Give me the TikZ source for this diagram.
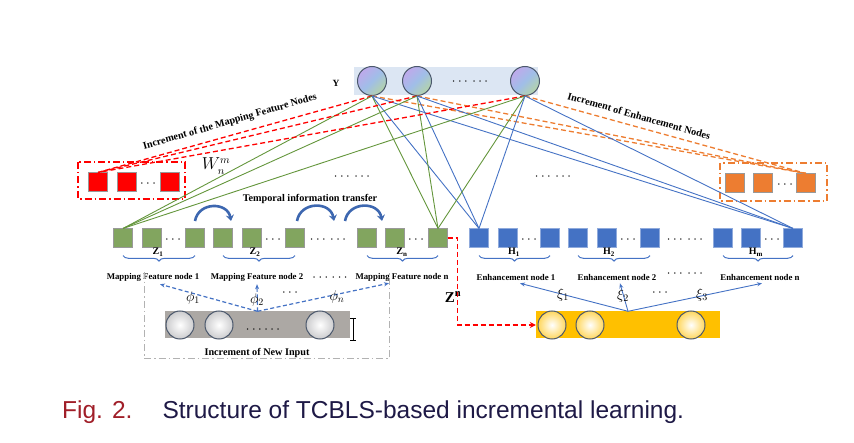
\documentclass[tikz,border=0pt]{standalone}
\usepackage{fontspec}
\setmainfont{Liberation Serif}
\newfontfamily\capfont{Liberation Sans}
\usetikzlibrary{positioning,arrows.meta,decorations.pathreplacing}
\definecolor{gfill}{RGB}{130,165,95}
\definecolor{gline}{RGB}{100,150,60}
\definecolor{bfill}{RGB}{68,114,196}
\definecolor{ofill}{RGB}{237,125,49}
\definecolor{ybar}{RGB}{220,230,243}
\definecolor{cborder}{RGB}{75,88,108}
\definecolor{cpur}{RGB}{190,170,235}
\definecolor{cblu}{RGB}{160,190,232}
\definecolor{cgrn}{RGB}{180,212,168}
\definecolor{inbar}{RGB}{172,168,164}
\definecolor{gold}{RGB}{255,192,0}
\definecolor{ringgray}{RGB}{175,175,178}
\definecolor{capred}{RGB}{160,30,40}
\definecolor{capblue}{RGB}{30,25,70}
\newcommand{\tdots}{{\fontsize{6}{6}\selectfont\textbullet\hspace{4pt}\textbullet\hspace{4pt}\textbullet}}

\begin{document}
\begin{tikzpicture}[
		x=1pt, y=-1pt
		,sq/.style={draw=gray!80, line width=.6pt, minimum size=18.5pt, inner sep=0pt}
		,gsq/.style={sq, fill=gfill}
		,bsq/.style={sq, fill=bfill, draw=bfill!60!white}
		,rsq/.style={sq, fill=red}
		,osq/.style={sq, fill=ofill}
		,yc/.style={circle, draw=cborder, line width=1pt, minimum size=29pt, inner sep=0pt,
			top color=cpur, bottom color=cgrn, middle color=cblu, shading angle=45}
		,ic/.style={circle, draw=cborder, line width=1pt, minimum size=28pt, inner sep=0pt, fill=#1,
			path picture={\shade[inner color=white, outer color=#1] (path picture bounding box.center) circle (22pt);}}
		,lab/.style={font=\bfseries\fontsize{8.8}{9}\selectfont, inner sep=1pt}
		,big/.style={font=\bfseries\fontsize{10.2}{11}\selectfont, inner sep=1pt}
		,zlab/.style={font=\bfseries\fontsize{10}{11}\selectfont, inner sep=0pt}
		,brc/.style={decorate, decoration={brace, mirror, amplitude=5.5pt}, draw=bfill, line width=1pt}
		,gl/.style={draw=gline, line width=.9pt}
		,bl/.style={draw=bfill, line width=.9pt}
		,rdash/.style={draw=red, line width=1.3pt, dash pattern=on 5pt off 3pt}
		,odash/.style={draw=ofill, line width=1.3pt, dash pattern=on 5pt off 3pt}
		,tarc/.style={draw=bfill!90!black, line width=2.6pt, -{Stealth[length=6pt, width=8pt]}}
	]
		\useasboundingbox (0,0) rectangle (854,443);

		% output layer Y
		\node[fill=ybar, minimum width=184pt, minimum height=28pt, inner sep=0pt] (ybox) at (446,81) {};
		\node[yc] (y1) at (372,81) {};
		\node[yc] (y2) at (417,81) {};
		\node[yc] (y3) at (525,81) {};
		\node at (470,82) {\tdots\hspace{6pt}\tdots};
		\node[big, font=\bfseries\fontsize{9.5}{9.5}\selectfont] (ylab) at (336,83) {Y};

		% incremental boxes
		\draw[red, line width=1.3pt, dash pattern=on 7pt off 3pt on 1.5pt off 3pt] (78,162) rectangle (185,199);
		\node[rsq] (r1) at (98,182) {};
		\node[rsq] (r2) at (127,182) {};
		\node[rsq] (r3) at (170,182) {};
		\node at (148,184) {\tdots};
		\draw[ofill, line width=1.3pt, dash pattern=on 7pt off 3pt on 1.5pt off 3pt] (720,163) rectangle (827,201);
		\node[osq] (o1) at (735,183) {};
		\node[osq] (o2) at (763,183) {};
		\node[osq] (o3) at (806,183) {};
		\node at (785,185) {\tdots};
		\node[font=\itshape\fontsize{16}{16}\selectfont, inner sep=0pt] (wlab) at (216,166) {$W^{m}_{n}$};
		\node at (352,177) {\tdots\hspace{6pt}\tdots};
		\node at (553,177) {\tdots\hspace{6pt}\tdots};

		% feature and enhancement rows
		\foreach \x [count=\i] in {123,152,195,223,252,295,367,395,438}
			\node[gsq] (g\i) at (\x,238) {};
		\foreach \x [count=\i] in {479,508,550,578,607,650,723,751,793}
			\node[bsq] (b\i) at (\x,238) {};
		\foreach \x in {173,273,416,529,628,772}
			\node at (\x,240) {\tdots};
		\node at (328,240) {\tdots\hspace{6pt}\tdots};
		\node at (685,240) {\tdots\hspace{6pt}\tdots};

		% connections to Y
		\foreach \c in {y1,y2,y3} {
			\draw[rdash] (\c.south) -- (r1.north);
			\draw[odash] (\c.south) -- (o3.north);
			\draw[gl] (\c.south) -- (g1.north);
			\draw[gl] (\c.south) -- (g9.north);
			\draw[bl] (\c.south) -- (b1.north);
			\draw[bl] (\c.south) -- (b9.north);
		}
		\node[big, rotate=16] (incmap) at (230,122) {Increment of the Mapping Feature Nodes};
		\node[big, rotate=-16] (incenh) at (639,116) {Increment of Enhancement Nodes};

		% temporal transfer
		\node[big] (temp) at (310,199) {Temporal information transfer};
		\coordinate (t1) at (195,221); \coordinate (t2) at (231,221);
		\coordinate (t3) at (297,221); \coordinate (t4) at (334,221);
		\coordinate (t5) at (345,221); \coordinate (t6) at (382,221);
		\draw[tarc] (t1) to[out=80, in=100, looseness=1.4] (t2);
		\draw[tarc] (t3) to[out=80, in=100, looseness=1.4] (t4);
		\draw[tarc] (t5) to[out=80, in=100, looseness=1.4] (t6);

		% braces
		\draw[brc] ([yshift=-8pt]g1.south) -- ([yshift=-8pt]g3.south);
		\draw[brc] ([yshift=-8pt]g4.south) -- ([yshift=-8pt]g6.south);
		\draw[brc] ([yshift=-8pt]g7.south) -- ([yshift=-8pt]g9.south);
		\draw[brc] ([yshift=-8pt]b1.south) -- ([yshift=-8pt]b3.south);
		\draw[brc] ([yshift=-8pt]b4.south) -- ([yshift=-8pt]b6.south);
		\draw[brc] ([yshift=-8pt]b7.south) -- ([yshift=-8pt]b9.south);
		\node[zlab] (z1) at (158,252) {Z\textsubscript{1}};
		\node[zlab] (z2) at (255,252) {Z\textsubscript{2}};
		\node[zlab] (zn) at (402,252) {Z\textsubscript{n}};
		\node[zlab] (h1) at (514,252) {H\textsubscript{1}};
		\node[zlab] (h2) at (609,252) {H\textsubscript{2}};
		\node[zlab] (hm) at (756,252) {H\textsubscript{m}};

		\node[lab] (mf1) at (153,277) {Mapping Feature node 1};
		\node[lab] (mf2) at (257,277) {Mapping Feature node 2};
		\node[lab] (mfn) at (402,277) {Mapping Feature node n};
		\node at (330,278) {\tdots\hspace{5pt}\tdots};
		\node[lab] (en1) at (516,277) {Enhancement node 1};
		\node[lab] (en2) at (617,277) {Enhancement node 2};
		\node[lab] (enn) at (760,277) {Enhancement node n};
		\node at (685,274) {\tdots\hspace{6pt}\tdots};

		% new input
		\draw[gray!60, line width=1pt, dash pattern=on 7pt off 3pt on 1.5pt off 3pt]
			(144,272) -- (144,359) -- (389,359) -- (389,272);
		\node[fill=inbar, minimum width=185pt, minimum height=27pt, inner sep=0pt] (inb) at (257.5,325) {};
		\node[ic=ringgray] (x1) at (180,325) {};
		\node[ic=ringgray] (x2) at (219,325) {};
		\node[ic=ringgray] (x3) at (320,325) {};
		\node at (263,330) {\tdots\hspace{4pt}\tdots};
		\draw[line width=.8pt] (353,318) -- (353,340) (350,318) -- (356,318) (350,340) -- (356,340);
		\node[big] (newin) at (257,353) {Increment of New Input};
		\draw[bfill, line width=1.2pt, dash pattern=on 4pt off 2.5pt, -{Stealth[length=5pt, width=4pt]}] (inb.north) -- ([xshift=7pt, yshift=-2pt]mf1.south);
		\draw[bfill, line width=1.2pt, dash pattern=on 4pt off 2.5pt, -{Stealth[length=5pt, width=4pt]}] (inb.north) -- ([yshift=-2pt]mf2.south);
		\draw[bfill, line width=1.2pt, dash pattern=on 4pt off 2.5pt, -{Stealth[length=5pt, width=4pt]}] (inb.north) -- ([xshift=-13pt, yshift=-1pt]mfn.south);
		\node[font=\fontsize{14}{14}\selectfont] (p1) at (193,298) {$\phi_1$};
		\node[font=\fontsize{14}{14}\selectfont] (p2) at (257,300) {$\phi_2$};
		\node[font=\fontsize{14}{14}\selectfont] (pn) at (337,297) {$\phi_n$};
		\node at (290,293) {\tdots};

		% enhancement input
		\node[fill=gold, minimum width=184pt, minimum height=27pt, inner sep=0pt] (enb) at (628,325) {};
		\node[ic=gold] (e1) at (552,325) {};
		\node[ic=gold] (e2) at (590,325) {};
		\node[ic=gold] (e3) at (691,325) {};
		\draw[bl, -{Stealth[length=5pt, width=4pt]}] (enb.north) -- ([xshift=4pt, yshift=-2pt]en1.south);
		\draw[bl, -{Stealth[length=5pt, width=4pt]}] (enb.north) -- ([xshift=3pt, yshift=-2pt]en2.south);
		\draw[bl, -{Stealth[length=5pt, width=4pt]}] (enb.north) -- ([xshift=2pt, yshift=-2pt]enn.south);
		\node[font=\fontsize{14}{14}\selectfont] (s1) at (563,295) {$\xi_1$};
		\node[font=\fontsize{14}{14}\selectfont] (s2) at (623,296) {$\xi_2$};
		\node[font=\fontsize{14}{14}\selectfont] (s3) at (702,295) {$\xi_3$};
		\node at (660,293) {\tdots};

		% transfer of Z^n
		\draw[rdash, line width=1.6pt, -{Stealth[length=6pt, width=6pt]}] (g9.east) -- ++(10,0) |- (enb.west);
		\node[font=\bfseries\fontsize{15}{15}\selectfont] (zsup) at (453,297) {Z\textsuperscript{n}};

		% caption
		\node[anchor=base west, inner sep=0pt, font=\capfont\fontsize{24.5}{26}\selectfont] (cap) at (62,418)
			{\textcolor{capred}{Fig. 2.}\hspace{30pt}\textcolor{capblue}{Structure of TCBLS-based incremental learning.}};
	\end{tikzpicture}
\end{document}
